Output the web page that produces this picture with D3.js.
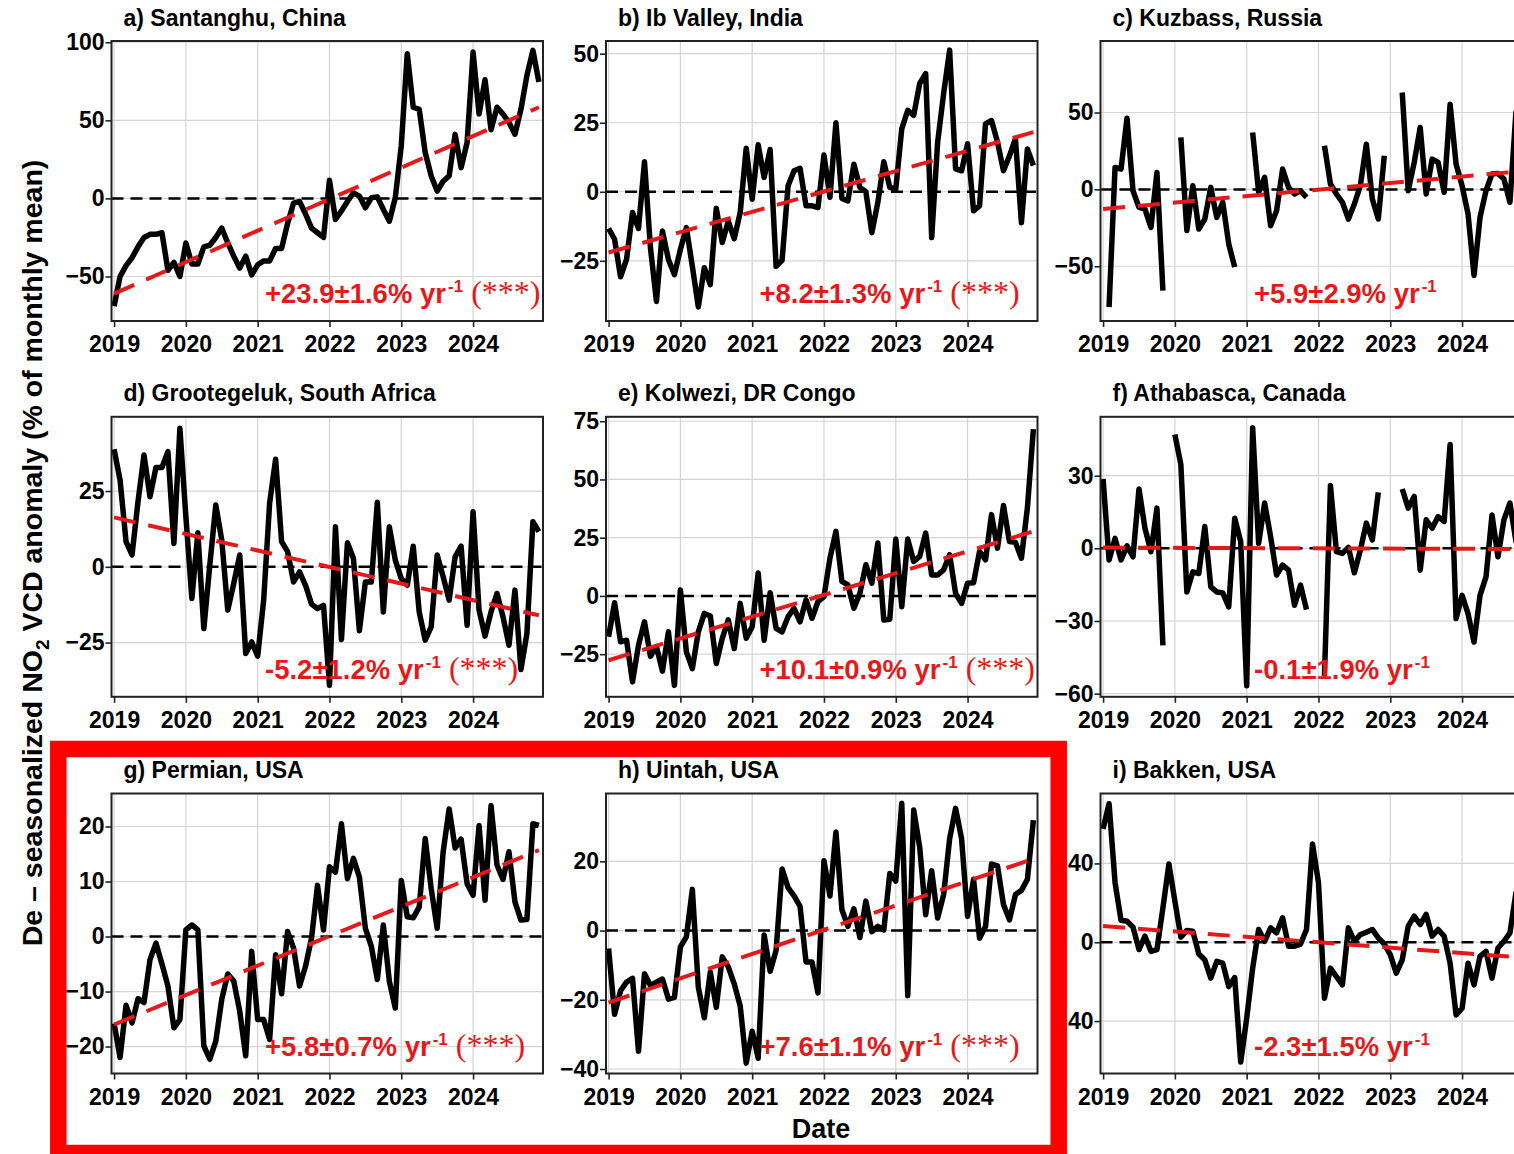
<!DOCTYPE html>
<html>
<head>
<meta charset="utf-8">
<script src="https://cdn.jsdelivr.net/npm/d3@7"></script>
<style>
  body { margin: 0; background: #fff; overflow: hidden; }
  svg { display: block; font-family: "Liberation Sans", Arial, sans-serif; }
</style>
</head>
<body>
<div id="chart"></div>
<script>
// tick years and monthly time axis (Jan 2019 .. Dec 2024)
const years = [2019, 2020, 2021, 2022, 2023, 2024];
const months = d3.range(72).map(i => 2019 + i / 12);

// monthly de-seasonalized anomalies (%), null = no data
const santanghu = [
  -69, -50, -43, -38, -31, -25, -23, -23, -22, -46, -41, -50,
  -28.5, -42, -42, -31, -30, -25, -19, -28.5, -37, -44.6, -37, -49,
  -42.5, -40, -40, -32, -32, -16, -3, -2, -10, -19, -22, -25,
  11.6, -13.5, -8, -2, 3.6, 1.5, -6, 0.4, 1, -7, -14.6, 0.4,
  33.7, 92.7, 58.4, 57, 29.4, 14.4, 4.7, 11, 14.4, 41, 19.7, 35.8,
  93.8, 54, 76, 44, 58.4, 54, 48.7, 41, 57, 78.8, 94.8, 74.5];
const ibValley = [
  -13.3, -17.2, -30.8, -24.5, -7.5, -13.3, 10.9, -20.3, -39.7, -14.2, -24.5, -30,
  -20.9, -13, -27, -41.7, -27.5, -33.6, -6, -18.4, -10.6, -17, -7.5, 15.8,
  -2.7, 17, 5.2, 15.3, -27, -24.8, 2.2, 7.6, 8.5, -5.1, -5.1, -5.7,
  13.3, -2, 25, -2.4, -3.3, 10, 1.6, 0, -14.8, -3.9, 10.9, 1.6,
  1, 22.8, 29.5, 27.7, 39.2, 42.8, -16.6, 18, 35.6, 51.3, 8.3, 7.6,
  17.4, -6.9, -5.1, 24.6, 25.8, 18, 7.6, 13, 19.2, -11.2, 15.5, 9.5];
const kuzbass = [
  null, -76.6, 14.3, 13.2, 46.3, -0.9, -11.7, -12.8, -24.7, 11, -65.8, null,
  null, 33.8, -26.8, 2.4, -25.8, -19.3, 1.3, -18.2, -8.4, -35.5, -50.6, null,
  null, 37, -1.9, 7.8, -23.6, -13.9, 13.2, 1.3, -3, -0.9, -5.2, null,
  null, 28.4, 3.5, -3, -8.4, -19.3, -9.5, 2.4, 29.4, -6.3, -19.3, 21.9,
  null, null, 63, -0.9, 17.5, 40.3, -3, 19.7, 17.5, -1.9, 55.4, 16.5,
  2.4, -16, -56, -18.2, -0.9, 10, 10.4, 6.7, -8.4, 50, 30, 20];
const grootegeluk = [
  38.8, 28.6, 8.3, 3.9, 21.5, 36.9, 23.1, 32.8, 32.8, 38, 7.7, 45.7,
  16.5, -10.5, 11.2, -20.4, 0.6, 20.4, 8.8, -14.3, -5.5, 3.9, -28.6, -24.8,
  -29.5, -11, 21.1, 35.5, 8.3, 5, -5, -1.7, -6.1, -12.3, -13.8, -12.7,
  -39.1, 13.2, -24, 7.9, 2.8, -21.1, -5, -5, 21.3, -14.9, 13.2, 2.2,
  -3.9, -6.1, 6.8, -14.9, -24.2, -19.8, 3.9, -3.3, -11, 3.3, 6.8, -19.3,
  18.2, -14.3, -22.9, -14.9, -8.8, -16.5, -25.9, -7.7, -33.9, -22, 14.9, 11.6];
const kolwezi = [
  -17.5, -2.9, -19.7, -19, -36.9, -21.1, -11.1, -25.9, -21.8, -32.3, -15.4, -38.4,
  2.6, -24, -31.2, -15.4, -7.5, -8.6, -29, -18.2, -10.3, -22.6, -3.2, -18.2,
  -13.2, 9.8, -19, 1.4, -13.9, -15.4, -8.9, -5.3, -11.1, -1.7, -9.6, -2.4,
  -0.3, 16.2, 27.7, 6.2, 4.7, -5.3, 1.1, 13.4, 5.5, 22.7, -10.3, -10,
  24.4, -4.6, 24.4, 14.8, 17, 27, 9, 9, 11.2, 17.7, 1.1, -3.2,
  5.5, 5.7, 19.1, 15.5, 34.9, 20.5, 38.8, 23.4, 23, 16.2, 37.8, 71.6];
const athabasca = [
  28.6, -4.8, 4.1, -4.8, 1, -3.5, 24.5, 8.3, -1.4, 16.6, -40.1, null,
  47, 34.6, -18, -9.7, -10.4, 9, -15.9, -18, -18.4, -24.2, 12.4, 2.8,
  -56.7, 49.8, 2.1, 18.7, 4.8, -11, -6.9, -9, -23.5, -15.2, -25.3, null,
  null, -52.6, 25.9, -1.4, -2.1, 0.4, -10.1, -0.7, 10.4, 3.5, 23.1, null,
  null, null, 24.5, 16.6, 21.4, -9, 11.8, 8.3, 13.1, 11.1, 42.9, -29,
  -19.4, -27, -38.7, -19.4, -11.8, 13.8, -3.5, 11.8, 18.7, 3, 18, 10];
const permian = [
  -15.8, -22, -12.5, -15.7, -11.3, -12, -4.2, -1.2, -5, -9, -16.6, -15.1,
  1.2, 2.1, 1.2, -19.9, -22.3, -19, -11.4, -6.8, -8.1, -13.6, -21.7, -2.7,
  -15.1, -15.1, -18.7, -3.3, -10.4, 0.9, -2.1, -9, -5.4, -0.3, 9.3, 1.2,
  12.7, 11.7, 20.5, 10.5, 14.2, 10.8, 1.5, -1.8, -7.8, 2.1, -8.1, -13,
  10.2, 3.6, 3.4, 5.4, 17.8, 8.7, 1.5, 15.4, 23.2, 16.1, 17.7, 9.6,
  7.5, 20.2, 6.6, 23.8, 13, 10.4, 15.4, 6.3, 3, 3.1, 20.5, 20.2];
const uintah = [
  -5.2, -24.2, -17.4, -14.9, -13.8, -34.9, -12.5, -15.9, -14.9, -14, -19.8, -19.3,
  -4.7, -1.8, 11.9, -16.4, -25.2, -12, -22.2, -7.6, -10.5, -15.4, -21.8, -38.3,
  -29.1, -36.9, -1.3, -11.8, -5.7, 17.8, 12.4, 10, 7, -9.1, -9.1, -18,
  20.2, 10, 28.5, 6, 1.2, 6.3, -2, 8.5, -0.3, 1.2, 0.2, 16.5,
  14.3, 36.8, -18.8, 34.8, 24.1, 4.6, 17.3, 3.6, 10.4, 26.5, 35.3, 26.5,
  4.1, 14.8, -2.2, 1.2, 19.2, 18.7, 7.5, 3.1, 10.4, 11.6, 14.8, 31.9];
const bakken = [
  57.5, 70.3, 30.3, 11.2, 10.7, 7.7, -3.7, 3.1, -4.6, -3.7, 17.5, 39.7,
  20.9, 2.6, 6, 5.6, -6, -8.9, -18.2, -9.7, -10.6, -22.5, -17.9, -60.8,
  -38.6, -13.1, 6.5, 0.5, 7.3, 4.8, 12.4, -2, -2, -0.9, 6.5, 49.9,
  30.3, -28.4, -13.1, -17.4, -21.6, 7.3, 0.5, 3.9, 5.1, 6.5, 2.2, -0.9,
  -6.3, -15.7, -8.9, 8.2, 13.3, 9, 14.1, 3.1, 6.5, 3.1, -10.6, -36.9,
  -33.5, -10.6, -21.6, -7.1, -4.6, -18.2, -2.9, 0.5, 4.8, 25, 20, 10];

// panel titles, linear trend (value at first and last month), trend text
const titles = ["a) Santanghu, China", "b) Ib Valley, India", "c) Kuzbass, Russia",
  "d) Grootegeluk, South Africa", "e) Kolwezi, DR Congo", "f) Athabasca, Canada",
  "g) Permian, USA", "h) Uintah, USA", "i) Bakken, USA"];
const series = [santanghu, ibValley, kuzbass, grootegeluk, kolwezi, athabasca, permian, uintah, bakken];
const trendEnds = [[-61, 58.4], [-22, 21.6], [-12.8, 12.2], [16.3, -16], [-27.6, 27.7],
  [0.3, -0.3], [-16, 15.7], [-20.8, 20.7], [8.2, -8]];
const trendLabels = ["+23.9±1.6%", "+8.2±1.3%", "+5.9±2.9%", "-5.2±1.2%", "+10.1±0.9%",
  "-0.1±1.9%", "+5.8±0.7%", "+7.6±1.1%", "-2.3±1.5%"];
const significant = [true, true, false, true, true, false, true, true, false];
const yTicks = [[-50, 0, 50, 100], [-25, 0, 25, 50], [-50, 0, 50], [-25, 0, 25],
  [-25, 0, 25, 50, 75], [-60, -30, 0, 30], [-20, -10, 0, 10, 20], [-40, -20, 0, 20], [-40, 0, 40]];
const yDomains = [[-78.5, 100.8], [-46.8, 54.6], [-85.6, 96.5], [-42.9, 49.5], [-43.3, 76.9],
  [-61.3, 54.3], [-24.9, 26.0], [-41.3, 39.6], [-66.6, 75.5]];

const W = 1514, H = 1154;
const colX = [111.5, 606, 1100.5], rowY = [41, 416.8, 793.5];
const pw = 431.5, ph = 280;
const red = "#e31a1c";

const svg = d3.select("#chart").append("svg")
  .attr("width", W).attr("height", H);

series.forEach((vals, i) => {
  const col = i % 3, row = Math.floor(i / 3);
  const g = svg.append("g")
    .attr("transform", `translate(${colX[col]},${rowY[row]})`);

  const x = d3.scaleLinear().domain([2018.964, 2024.974]).range([0, pw]);
  const y = d3.scaleLinear().domain(yDomains[i]).range([ph, 0]);

  // grid
  g.append("g").selectAll("line").data(years).join("line")
    .attr("x1", d => x(d)).attr("x2", d => x(d)).attr("y1", 0).attr("y2", ph)
    .attr("stroke", "#d4d4d4").attr("stroke-width", 1.2);
  g.append("g").selectAll("line").data(yTicks[i]).join("line")
    .attr("x1", 0).attr("x2", pw).attr("y1", d => y(d)).attr("y2", d => y(d))
    .attr("stroke", "#d4d4d4").attr("stroke-width", 1.2);

  // zero line
  g.append("line")
    .attr("x1", 0).attr("x2", pw).attr("y1", y(0)).attr("y2", y(0))
    .attr("stroke", "#000").attr("stroke-width", 2.5).attr("stroke-dasharray", "12,7");

  // data
  const line = d3.line()
    .defined(d => d.v != null)
    .x(d => x(d.t)).y(d => y(d.v));
  g.append("path")
    .datum(vals.map((v, k) => ({ t: months[k], v: v })))
    .attr("d", line)
    .attr("fill", "none").attr("stroke", "#000").attr("stroke-width", 5.5)
    .attr("stroke-linejoin", "round");

  // trend
  g.append("path")
    .datum([{ t: months[0], v: trendEnds[i][0] }, { t: months[71], v: trendEnds[i][1] }])
    .attr("d", line)
    .attr("fill", "none").attr("stroke", red).attr("stroke-width", 4)
    .attr("stroke-dasharray", "22,13");

  // frame
  g.append("rect").attr("width", pw).attr("height", ph)
    .attr("fill", "none").attr("stroke", "#222").attr("stroke-width", 2);

  // axes
  const xa = g.append("g").attr("transform", `translate(0,${ph})`)
    .call(d3.axisBottom(x).tickValues(years).tickFormat(d3.format("d"))
      .tickSize(6).tickSizeOuter(0).tickPadding(9));
  const ya = g.append("g")
    .call(d3.axisLeft(y).tickValues(yTicks[i]).tickFormat(d3.format("d"))
      .tickSize(6).tickSizeOuter(0).tickPadding(1));
  [xa, ya].forEach(a => {
    a.select(".domain").remove();
    a.selectAll(".tick line").attr("stroke", "#222").attr("stroke-width", 1.6);
    a.selectAll(".tick text").attr("fill", "#000")
      .attr("font-size", 23).attr("font-weight", "bold")
      .attr("font-family", "'Liberation Sans', Arial, sans-serif");
  });

  // title
  g.append("text").attr("x", 12).attr("y", -15.5)
    .attr("font-size", 23).attr("font-weight", "bold").text(titles[i]);

  // trend label
  const t = g.append("text").attr("x", 153.5).attr("y", ph - 18)
    .attr("fill", red).attr("font-size", 27.5).attr("font-weight", "bold");
  t.append("tspan").text(trendLabels[i] + " yr");
  t.append("tspan").attr("font-size", 17).attr("dy", -11).attr("dx", 2).text("-1");
  if (significant[i]) {
    t.append("tspan").attr("dy", 11).attr("dx", 8)
      .attr("font-family", "'Liberation Serif', 'Times New Roman', serif")
      .attr("font-weight", "normal").attr("font-size", 32).text("(***)");
  }
});

// shared axis titles
const yt = svg.append("text")
  .attr("transform", "translate(42,553) rotate(-90)")
  .attr("text-anchor", "middle").attr("font-size", 28.5).attr("font-weight", "bold");
yt.append("tspan").text("De \u2013 seasonalized NO");
yt.append("tspan").attr("font-size", 19).attr("dy", 7).text("2");
yt.append("tspan").attr("dy", -7).text(" VCD anomaly (% of monthly mean)");

svg.append("text").attr("x", 821).attr("y", 1138)
  .attr("text-anchor", "middle").attr("font-size", 27).attr("font-weight", "bold")
  .text("Date");

// highlight box around g) and h)
svg.append("rect")
  .attr("x", 58.3).attr("y", 749).attr("width", 1000.4).attr("height", 404)
  .attr("fill", "none").attr("stroke", "#ff0000").attr("stroke-width", 16.5);
</script>
</body>
</html>
